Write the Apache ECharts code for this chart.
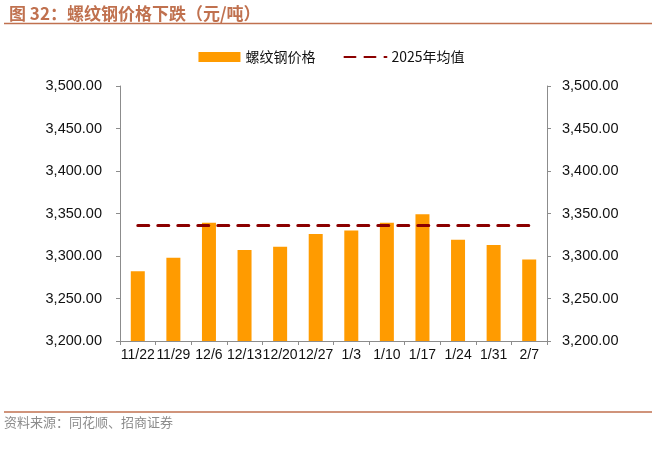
<!DOCTYPE html>
<html>
<head>
<meta charset="utf-8">
<script src="https://cdn.jsdelivr.net/npm/echarts@6/dist/echarts.min.js"></script>
<style>
  html, body { margin: 0; padding: 0; background: #fff; }
  #chart { width: 663px; height: 454px; }
</style>
</head>
<body>
<div id="chart"></div>
<script>
// weekly dates
const weeks = ["11/22", "11/29", "12/6", "12/13", "12/20", "12/27", "1/3", "1/10", "1/17", "1/24", "1/31", "2/7"];
// rebar price, yuan/ton
const rebarPrice = [3282, 3298, 3339, 3307, 3311, 3326, 3330, 3339, 3349, 3319, 3313, 3296];
// 2025 average
const avg2025 = [3336, 3336, 3336, 3336, 3336, 3336, 3336, 3336, 3336, 3336, 3336, 3336];

const chart = echarts.init(document.getElementById("chart"));

const fmt = (v) => v.toLocaleString("en-US", { minimumFractionDigits: 2, maximumFractionDigits: 2 });

const valueAxis = (pos) => ({
    type: "value",
    position: pos,
    min: 3200,
    max: 3500,
    interval: 50,
    axisLine: { show: true, lineStyle: { color: "#8c8c8c" } },
    axisTick: { show: true, length: 4, lineStyle: { color: "#8c8c8c" } },
    splitLine: { show: false },
    axisLabel: {
        color: "#111",
        fontSize: 14.5,
        fontFamily: "Liberation Sans",
        margin: pos === "left" ? 18 : 15,
        formatter: fmt,
    },
});

const option = {
    animation: false,
    textStyle: { fontFamily: "Liberation Sans" },
    title: {
        text: "图 32：螺纹钢价格下跌（元/吨）",
        left: 4,
        top: 0,
        textStyle: {
            color: "#c0714f",
            fontSize: 17,
            fontWeight: "bold",
            fontFamily: "Noto Sans CJK SC",
        },
    },
    legend: {
        top: 45,
        left: "center",
        itemGap: 28,
        itemWidth: 42,
        itemHeight: 10,
        textStyle: { color: "#111", fontSize: 14, fontFamily: "Noto Sans CJK SC" },
        data: [
            { name: "螺纹钢价格", icon: "rect" },
            { name: "2025年均值", itemStyle: { opacity: 0 } },
        ],
    },
    grid: { left: 120, right: 116, top: 86, bottom: 113 },
    xAxis: {
        type: "category",
        data: weeks,
        axisLine: { lineStyle: { color: "#8c8c8c" } },
        axisTick: { show: true, length: 4, lineStyle: { color: "#8c8c8c" } },
        axisLabel: { interval: 0, color: "#111", fontSize: 14, margin: 7, fontFamily: "Liberation Sans" },
    },
    yAxis: [valueAxis("left"), valueAxis("right")],
    series: [
        {
            name: "螺纹钢价格",
            type: "bar",
            data: rebarPrice,
            barWidth: 14,
            itemStyle: { color: "#ff9b00" },
        },
        {
            name: "2025年均值",
            type: "line",
            data: avg2025,
            symbol: "none",
            lineStyle: { color: "#8b0000", width: 3, type: [11, 9], cap: "round" },
            itemStyle: { color: "#8b0000" },
        },
    ],
    graphic: [
        { type: "line", shape: { x1: 4, y1: 23.5, x2: 652, y2: 23.5 }, style: { stroke: "#c0714f", lineWidth: 1.5 } },
        { type: "line", shape: { x1: 4, y1: 412, x2: 652, y2: 412 }, style: { stroke: "#c0714f", lineWidth: 1.5 } },
        {
            type: "text",
            left: 4,
            top: 416,
            style: { text: "资料来源：同花顺、招商证券", fill: "#8c8c8c", fontSize: 13, fontFamily: "Noto Sans CJK SC" },
        },
    ],
};

chart.setOption(option);
</script>
</body>
</html>
